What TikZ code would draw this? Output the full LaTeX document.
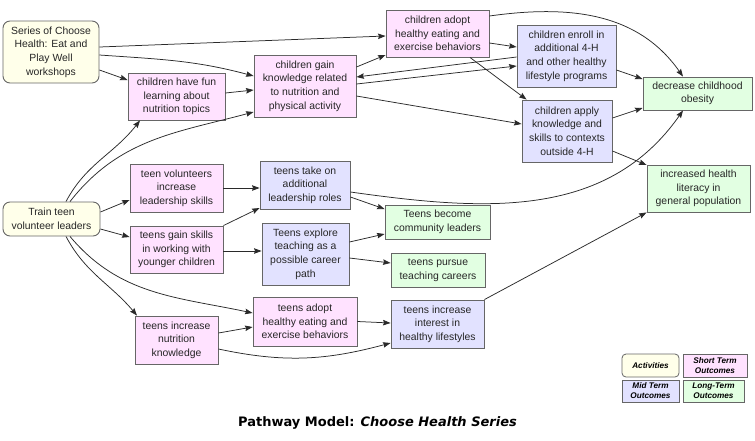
\documentclass[tikz,border=0pt]{standalone}
\usepackage{fontspec}
\setmainfont{Liberation Sans}
\newfontfamily\titlefont{DejaVu Sans}
\usetikzlibrary{arrows.meta,positioning}
\definecolor{actfill}{HTML}{FFFFEA}
\definecolor{shortfill}{HTML}{FFE2FF}
\definecolor{midfill}{HTML}{E2E2FF}
\definecolor{longfill}{HTML}{E2FFE2}
\definecolor{bordergray}{HTML}{666666}
\definecolor{linegray}{HTML}{2A2A2A}
\begin{document}
\begin{tikzpicture}[x=1pt,y=-1pt,
  box/.style={draw=bordergray,line width=0.9pt,inner sep=0pt,align=center,
    font=\fontsize{10.4}{13.6}\selectfont,text=black!85},
  act/.style={box,fill=actfill,rounded corners=7pt},
  st/.style={box,fill=shortfill},
  mt/.style={box,fill=midfill},
  lt/.style={box,fill=longfill},
  arr/.style={draw=linegray,line width=0.75pt,-{Stealth[length=7.5pt,width=5.5pt,inset=1pt]}},
  leg/.style={draw=bordergray,line width=0.8pt,inner sep=0pt,align=center,
    font=\fontsize{8.2}{10}\selectfont\bfseries\itshape}]
\useasboundingbox[fill=white] (0,0) rectangle (755,440);

% nodes
\node[act,minimum width=96pt,minimum height=62pt] (series) at (51,52) {Series of Choose\\Health: Eat and\\Play Well\\workshops};
\node[st,minimum width=97pt,minimum height=47pt] (fun) at (176.5,96.5) {children have fun\\learning about\\nutrition topics};
\node[st,minimum width=102pt,minimum height=62pt] (gaink) at (305,86) {children gain\\knowledge related\\to nutrition and\\physical activity};
\node[st,minimum width=103pt,minimum height=47pt] (adopt) at (437.5,33.5) {children adopt\\healthy eating and\\exercise behaviors};
\node[mt,minimum width=99pt,minimum height=62pt] (enroll) at (566.5,56) {children enroll in\\additional 4-H\\and other healthy\\lifestyle programs};
\node[mt,minimum width=90pt,minimum height=62pt] (apply) at (567,131) {children apply\\knowledge and\\skills to contexts\\outside 4-H};
\node[lt,minimum width=109pt,minimum height=33pt] (obesity) at (697.5,93.5) {decrease childhood\\obesity};
\node[lt,minimum width=103pt,minimum height=47pt] (literacy) at (698.5,188.5) {increased health\\literacy in\\general population};
\node[act,minimum width=97pt,minimum height=34pt] (train) at (51.5,219) {Train teen\\volunteer leaders};
\node[st,minimum width=93pt,minimum height=48pt] (vol) at (176.5,188) {teen volunteers\\increase\\leadership skills};
\node[st,minimum width=93pt,minimum height=47pt] (gs) at (176.5,249.5) {teens gain skills\\in working with\\younger children};
\node[mt,minimum width=90pt,minimum height=48pt] (roles) at (305,185) {teens take on\\additional\\leadership roles};
\node[mt,minimum width=87pt,minimum height=62pt] (explore) at (305.5,254) {Teens explore\\teaching as a\\possible career\\path};
\node[lt,minimum width=105pt,minimum height=34pt] (comm) at (437.5,222) {Teens become\\community leaders};
\node[lt,minimum width=94pt,minimum height=34pt] (pursue) at (438,270) {teens pursue\\teaching careers};
\node[st,minimum width=83pt,minimum height=48pt] (nutr) at (176.5,340) {teens increase\\nutrition\\knowledge};
\node[st,minimum width=104pt,minimum height=49pt] (tadopt) at (305,321.5) {teens adopt\\healthy eating and\\exercise behaviors};
\node[mt,minimum width=93pt,minimum height=48pt] (interest) at (437.5,324) {teens increase\\interest in\\healthy lifestyles};

% legend
\node[leg,fill=actfill,rounded corners=4pt,minimum width=57pt,minimum height=23pt] (lega) at (650.5,365.5) {Activities};
\node[leg,fill=shortfill,minimum width=64pt,minimum height=23pt] (legs) at (715,365.5) {Short Term\\Outcomes};
\node[leg,fill=midfill,minimum width=57pt,minimum height=22pt] (legm) at (650.5,391) {Mid Term\\Outcomes};
\node[leg,fill=longfill,minimum width=61pt,minimum height=22pt] (legl) at (713.5,391) {Long-Term\\Outcomes};

% title
\node[inner sep=0pt,font=\titlefont\fontsize{13}{15}\selectfont\bfseries] (title) at (377.5,423) {Pathway Model: \textit{Choose Health Series}};

% connectors
\draw[arr] ([yshift=5pt]series.east) -- ([yshift=-2.5pt]adopt.west);
\draw[arr] ([yshift=-3pt]series.east) to[out=-4,in=165] ([yshift=10pt]gaink.west);
\draw[arr] ([yshift=-18pt]series.east) -- ([yshift=16.5pt]fun.west);
\draw[arr] ([yshift=3.5pt]fun.east) -- ([yshift=-4pt]gaink.west);
\draw[arr] ([xshift=14.5pt]train.north) to[out=62,in=-128] ([xshift=-36.5pt]fun.south);
\draw[arr] ([xshift=18.5pt]train.north) to[out=52,in=-165] ([yshift=-26pt]gaink.west);
\draw[arr] ([yshift=7pt]train.east) -- ([yshift=-12pt]vol.west);
\draw[arr] ([yshift=-10pt]train.east) -- ([yshift=12.5pt]gs.west);
\draw[arr] ([xshift=14.5pt]train.south) to[out=-62,in=130] ([xshift=-39.5pt]nutr.north);
\draw[arr] ([xshift=18.5pt]train.south) to[out=-50,in=168] ([yshift=8.5pt]tadopt.west);
\draw[arr] (vol.east) -- ([yshift=-3pt]roles.west);
\draw[arr] (gs.north east) -- ([yshift=-23pt]roles.west);
\draw[arr] ([yshift=-1.5pt]gs.east) -- ([yshift=3pt]explore.west);
\draw[arr] ([yshift=-12pt]roles.east) -- ([yshift=13pt]comm.west);
\draw[arr] ([yshift=-7pt]roles.east) to[out=-8,in=-125] ([xshift=-14.5pt]obesity.south);
\draw[arr] ([yshift=12pt]explore.east) -- ([yshift=-12pt]comm.west);
\draw[arr] ([yshift=-4pt]explore.east) -- ([yshift=7pt]pursue.west);
\draw[arr] ([yshift=7pt]nutr.east) -- ([yshift=-5.5pt]tadopt.west);
\draw[arr] ([yshift=-9pt]nutr.east) to[out=-12,in=-165] ([yshift=-19pt]interest.west);
\draw[arr] (tadopt.east) -- ([yshift=1pt]interest.west);
\draw[arr] (interest.north east) -- (literacy.south west);
\draw[arr] ([yshift=19pt]gaink.east) -- ([yshift=-21.5pt]adopt.west);
\draw[arr] ([yshift=2pt]gaink.east) -- ([yshift=-10pt]enroll.west);
\draw[arr] ([yshift=-1pt]enroll.west) -- ([yshift=9pt]gaink.east);
\draw[arr] ([yshift=-10pt]gaink.east) -- ([yshift=7pt]apply.west);
\draw[arr] ([yshift=-9.5pt]adopt.east) -- ([yshift=9pt]enroll.west);
\draw[arr] ([xshift=32.5pt]adopt.south) -- ([xshift=5pt]apply.north west);
\draw[arr] ([yshift=17.5pt]adopt.east) to[out=8,in=125] ([xshift=-14.5pt]obesity.north);
\draw[arr] ([yshift=-14pt]enroll.east) -- ([yshift=14.5pt]obesity.west);
\draw[arr] ([yshift=13pt]apply.east) -- ([yshift=-14.5pt]obesity.west);
\draw[arr] ([yshift=-20pt]apply.east) -- ([yshift=23.5pt]literacy.west);
\end{tikzpicture}
\end{document}
